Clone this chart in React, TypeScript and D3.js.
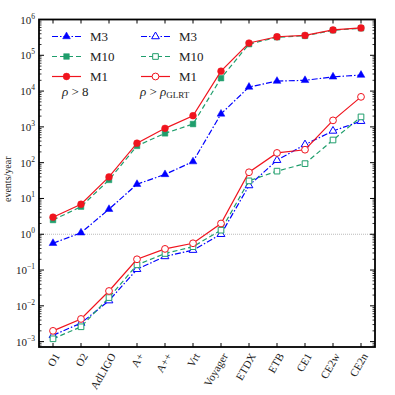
import * as d3 from "d3";

const categories = ["O1", "O2", "AdLIGO", "A+", "A++", "Vrt", "Voyager", "ETDX", "ETB", "CE1", "CE2w", "CE2n"];

// rho > 8
const m3Snr = [0.56, 1.1, 5.0, 25, 47, 107, 2300, 13000, 19000, 20000, 25000, 28000];
const m10Snr = [2.5, 5.9, 33, 295, 660, 1200, 23000, 205000, 320000, 350000, 500000, 570000];
const m1Snr = [3.0, 6.9, 40, 350, 910, 2050, 36000, 220000, 330000, 360000, 510000, 580000];

// rho > rho_GLRT
const m3Glrt = [0.0015, 0.0033, 0.014, 0.105, 0.24, 0.36, 1.0, 23, 117, 320, 770, 1440];
const m10Glrt = [0.0012, 0.0026, 0.017, 0.14, 0.29, 0.45, 1.3, 31, 58, 94, 430, 1900];
const m1Glrt = [0.002, 0.0043, 0.026, 0.2, 0.39, 0.56, 2.0, 54, 187, 230, 1520, 6900];

const yExponents = [-3, -2, -1, 0, 1, 2, 3, 4, 5, 6];

const BLUE = "#0000ff";
const GREEN = "#1f9e6c";
const RED = "#f0141e";

const FONT = "Liberation Serif, DejaVu Serif, serif";

type Style = { color: string; dash: string; shape: "tri" | "sq" | "circ" };
const styles: Record<string, Style> = {
  M3: { color: BLUE, dash: "6,2,1.5,2", shape: "tri" },
  M10: { color: GREEN, dash: "5,3", shape: "sq" },
  M1: { color: RED, dash: "", shape: "circ" },
};

const margin = { left: 39, right: 20, top: 19.5, bottom: 48 };
const W = 395;
const H = 395;

function Marker({ x, y, s, open }: { x: number; y: number; s: Style; open: boolean }) {
  const fill = open ? "white" : s.color;
  const sw = open ? 1 : 0.5;
  if (s.shape === "circ") return <circle cx={x} cy={y} r={3.4} fill={fill} stroke={s.color} strokeWidth={sw} />;
  const sym = d3.symbol().type(s.shape === "tri" ? d3.symbolTriangle : d3.symbolSquare).size(s.shape === "tri" ? 26 : 32);
  return <path d={sym() ?? ""} transform={`translate(${x},${y})`} fill={fill} stroke={s.color} strokeWidth={sw} />;
}

export default function App() {
  const x0 = margin.left;
  const x1 = W - margin.right;
  const y0 = margin.top;
  const y1 = H - margin.bottom;

  const x = d3.scalePoint<string>().domain(categories).range([x0, x1]).padding(0.5);
  const y = d3.scaleLog().domain([Math.pow(10, -3.15), 1e6]).range([y1, y0]);

  const line = d3
    .line<number>()
    .x((_, i) => x(categories[i])!)
    .y((d) => y(d));

  const series: [string, number[], boolean][] = [
    ["M3", m3Snr, false],
    ["M10", m10Snr, false],
    ["M1", m1Snr, false],
    ["M3", m3Glrt, true],
    ["M10", m10Glrt, true],
    ["M1", m1Glrt, true],
  ];

  const minor: number[] = [];
  for (let e = -4; e < 6; e++) for (let k = 2; k <= 9; k++) {
    const v = k * Math.pow(10, e);
    if (v >= y.domain()[0] && v <= 1e6) minor.push(v);
  }

  const legendRows = ["M3", "M10", "M1"];
  const txt = { fontFamily: FONT };

  return (
    <svg width={W} height={H} style={{ display: "block", position: "absolute", left: 0, top: 0, fontFamily: FONT }}>
      <rect width={W} height={H} fill="white" />
      {/* reference line at 1 */}
      <line x1={x0} x2={x1} y1={y(1)} y2={y(1)} stroke="#aaa" strokeWidth={0.8} strokeDasharray="1,1" />

      {/* y ticks */}
      {yExponents.map((e) => (
        <g key={e}>
          <line x1={x0} x2={x0 + 5} y1={y(Math.pow(10, e))} y2={y(Math.pow(10, e))} stroke="black" />
          <line x1={x1} x2={x1 - 5} y1={y(Math.pow(10, e))} y2={y(Math.pow(10, e))} stroke="black" />
          <text x={x0 - 4} y={y(Math.pow(10, e)) + 4} textAnchor="end" fontSize={11} fill="#222" style={txt}>
            10
            <tspan dy={-5} fontSize={7.5}>{e < 0 ? `\u2212${-e}` : e}</tspan>
          </text>
        </g>
      ))}
      {minor.map((v, i) => (
        <g key={i}>
          <line x1={x0} x2={x0 + 2.5} y1={y(v)} y2={y(v)} stroke="black" strokeWidth={0.8} />
          <line x1={x1} x2={x1 - 2.5} y1={y(v)} y2={y(v)} stroke="black" strokeWidth={0.8} />
        </g>
      ))}

      {/* x ticks */}
      {categories.map((c) => (
        <g key={c}>
          <line x1={x(c)} x2={x(c)} y1={y1} y2={y1 - 4} stroke="black" />
          <line x1={x(c)} x2={x(c)} y1={y0} y2={y0 + 4} stroke="black" />
          <text
            transform={`translate(${x(c)! + 4},${y1 + 7}) rotate(-60)`}
            textAnchor="end"
            fontSize={11}
            fill="#222"
            dy="0.35em"
            style={txt}
          >
            {c}
          </text>
        </g>
      ))}

      {/* series */}
      {series.map(([name, vals, open], si) => {
        const s = styles[name];
        return (
          <g key={si}>
            <path d={line(vals) ?? ""} fill="none" stroke={s.color} strokeWidth={1.2} strokeDasharray={s.dash} />
            {vals.map((v, i) => (
              <Marker key={i} x={x(categories[i])!} y={y(v)} s={s} open={open} />
            ))}
          </g>
        );
      })}

      {/* legend */}
      {[0, 1].map((col) => {
        const lx = col === 0 ? 52 : 141;
        return (
          <g key={col}>
            {legendRows.map((name, r) => {
              const s = styles[name];
              const ly = 36.5 + r * 20;
              return (
                <g key={name}>
                  <line x1={lx} x2={lx + 29} y1={ly} y2={ly} stroke={s.color} strokeWidth={1.2} strokeDasharray={s.dash} />
                  <Marker x={lx + 14.5} y={ly} s={s} open={col === 1} />
                  <text x={lx + 38} y={ly + 4.5} fontSize={13} fill="#222" style={txt}>
                    {name}
                  </text>
                </g>
              );
            })}
          </g>
        );
      })}
      <text x={62} y={96} fontSize={13} fill="#222" style={txt}>
        <tspan fontStyle="italic">ρ</tspan> {">"} 8
      </text>
      <text x={140} y={96} fontSize={13} fill="#222" style={txt}>
        <tspan fontStyle="italic">ρ</tspan> {">"} <tspan fontStyle="italic">ρ</tspan>
        <tspan dy={2} fontSize={9}>GLRT</tspan>
      </text>

      {/* y label */}
      <text transform={`translate(11,${(y0 + y1) / 2 - 4}) rotate(-90)`} textAnchor="middle" fontSize={10} fill="#222" style={txt}>
        events/year
      </text>

      {/* frame */}
      <rect x={x0} y={y0} width={x1 - x0} height={y1 - y0} fill="none" stroke="black" strokeWidth={1.8} />
    </svg>
  );
}
